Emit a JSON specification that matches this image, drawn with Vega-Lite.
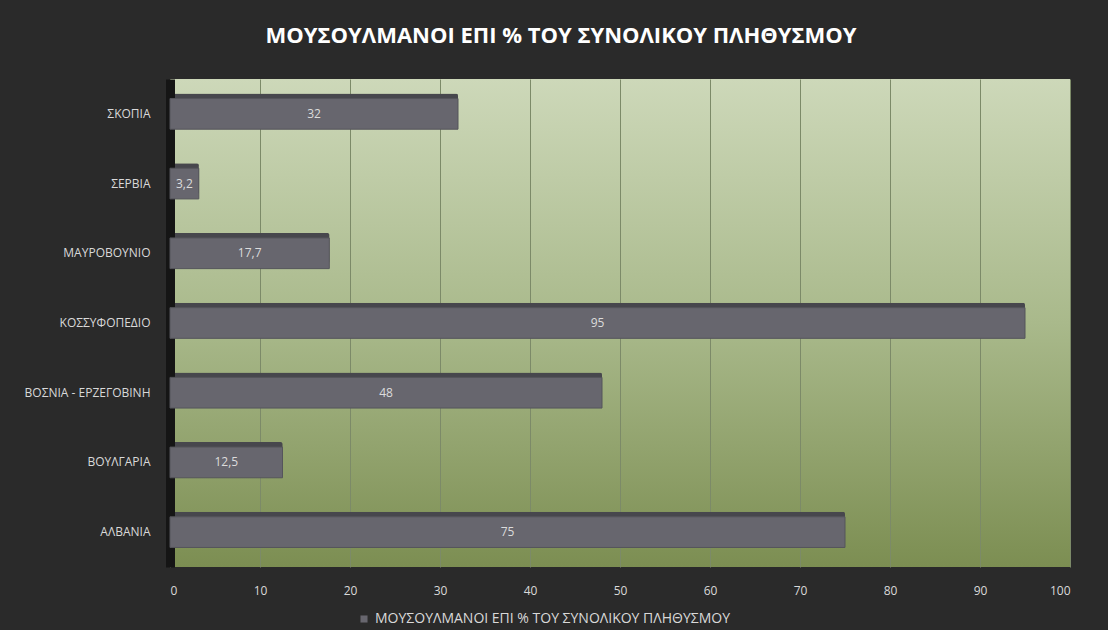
{
  "$schema": "https://vega.github.io/schema/vega-lite/v6.json",
  "autosize": {"type": "pad"},
  "width": 900,
  "height": 488,
  "padding": {"left": 24, "top": 25, "right": 38, "bottom": 4},
  "background": "#2a2a2a",
  "config": {
    "locale": {"number": {"decimal": ",", "thousands": ".", "grouping": [3], "currency": ["", " €"]}},
    "view": {
      "stroke": null,
      "fill": {
        "gradient": "linear",
        "x1": 0, "y1": 0, "x2": 0, "y2": 1,
        "stops": [
          {"offset": 0, "color": "#cdd8b9"},
          {"offset": 0.5, "color": "#a9b98b"},
          {"offset": 1, "color": "#7c8e52"}
        ]
      }
    },
    "font": "Open Sans"
  },
  "title": {
    "text": "ΜΟΥΣΟΥΛΜΑΝΟΙ ΕΠΙ % ΤΟΥ ΣΥΝΟΛΙΚΟΥ ΠΛΗΘΥΣΜΟΥ",
    "color": "#ffffff",
    "fontSize": 22,
    "fontWeight": "bold",
    "font": "Open Sans",
    "anchor": "middle",
    "frame": "bounds",
    "dx": 14,
    "offset": 31
  },
  "data": {
    "values": [
      {"country": "ΣΚΟΠΙΑ", "value": 32, "series": "ΜΟΥΣΟΥΛΜΑΝΟΙ ΕΠΙ % ΤΟΥ ΣΥΝΟΛΙΚΟΥ ΠΛΗΘΥΣΜΟΥ"},
      {"country": "ΣΕΡΒΙΑ", "value": 3.2, "series": "ΜΟΥΣΟΥΛΜΑΝΟΙ ΕΠΙ % ΤΟΥ ΣΥΝΟΛΙΚΟΥ ΠΛΗΘΥΣΜΟΥ"},
      {"country": "ΜΑΥΡΟΒΟΥΝΙΟ", "value": 17.7, "series": "ΜΟΥΣΟΥΛΜΑΝΟΙ ΕΠΙ % ΤΟΥ ΣΥΝΟΛΙΚΟΥ ΠΛΗΘΥΣΜΟΥ"},
      {"country": "ΚΟΣΣΥΦΟΠΕΔΙΟ", "value": 95, "series": "ΜΟΥΣΟΥΛΜΑΝΟΙ ΕΠΙ % ΤΟΥ ΣΥΝΟΛΙΚΟΥ ΠΛΗΘΥΣΜΟΥ"},
      {"country": "ΒΟΣΝΙΑ - ΕΡΖΕΓΟΒΙΝΗ", "value": 48, "series": "ΜΟΥΣΟΥΛΜΑΝΟΙ ΕΠΙ % ΤΟΥ ΣΥΝΟΛΙΚΟΥ ΠΛΗΘΥΣΜΟΥ"},
      {"country": "ΒΟΥΛΓΑΡΙΑ", "value": 12.5, "series": "ΜΟΥΣΟΥΛΜΑΝΟΙ ΕΠΙ % ΤΟΥ ΣΥΝΟΛΙΚΟΥ ΠΛΗΘΥΣΜΟΥ"},
      {"country": "ΑΛΒΑΝΙΑ", "value": 75, "series": "ΜΟΥΣΟΥΛΜΑΝΟΙ ΕΠΙ % ΤΟΥ ΣΥΝΟΛΙΚΟΥ ΠΛΗΘΥΣΜΟΥ"}
    ]
  },
  "encoding": {
    "y": {
      "field": "country",
      "type": "nominal",
      "sort": null,
      "scale": {"paddingInner": 0.56, "paddingOuter": 0.28},
      "axis": {
        "title": null,
        "domain": true,
        "domainColor": "#151515",
        "domainWidth": 9,
        "ticks": false,
        "labelColor": "#d9d9d9",
        "labelFontSize": 12,
        "labelPadding": 20,
        "labelFont": "Open Sans"
      }
    }
  },
  "layer": [
    {
      "mark": {"type": "bar", "color": "#47474d", "xOffset": 5, "yOffset": -5, "cornerRadius": 2},
      "encoding": {
        "x": {
          "field": "value",
          "type": "quantitative",
          "scale": {"domain": [0, 100]},
          "axis": {
            "title": null,
            "values": [0, 10, 20, 30, 40, 50, 60, 70, 80, 90, 100],
            "domain": false,
            "ticks": false,
            "grid": true,
            "gridColor": "#7c8a68",
            "gridWidth": 1,
            "labelColor": "#d9d9d9",
            "labelFontSize": 12,
            "labelPadding": 18,
            "labelFont": "Open Sans"
          }
        }
      }
    },
    {
      "mark": {"type": "bar", "stroke": "#55555b", "strokeWidth": 1},
      "encoding": {
        "x": {"field": "value", "type": "quantitative"},
        "fill": {
          "field": "series",
          "type": "nominal",
          "scale": {"range": ["#67666e"]},
          "legend": {
            "title": null,
            "orient": "none",
            "legendX": 187,
            "legendY": 533,
            "direction": "horizontal",
            "symbolType": "square",
            "symbolSize": 50,
            "symbolStrokeWidth": 0,
            "labelColor": "#d9d9d9",
            "labelFontSize": 14,
            "labelLimit": 0,
            "labelFont": "Open Sans"
          }
        }
      }
    },
    {
      "mark": {"type": "text", "color": "#dcdcdc", "fontSize": 12, "font": "Open Sans"},
      "encoding": {
        "x": {"field": "value", "type": "quantitative", "stack": "zero", "bandPosition": 0.5},
        "text": {"field": "value", "type": "quantitative"}
      }
    }
  ]
}
